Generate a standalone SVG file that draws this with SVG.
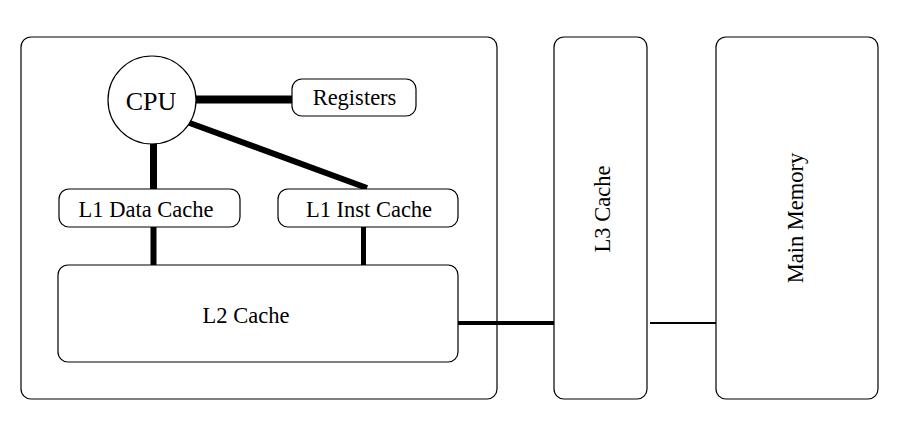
<svg xmlns="http://www.w3.org/2000/svg" width="902" height="422" viewBox="0 0 902 422">
<style>
.box{fill:#fff;stroke:#000;stroke-width:1.2}
.lbl{font-family:"Liberation Serif","Times New Roman",serif;font-size:22.5px;fill:#000;text-anchor:middle}
.cpu{font-size:26px}
.conn line{stroke:#000;stroke-linecap:butt}
</style>
<rect width="902" height="422" fill="#fff"/>
<g id="chip"><rect class="box" x="21" y="37" width="476" height="362" rx="10"/></g>
<g class="conn" id="connectors">
<line x1="196" y1="99.5" x2="293" y2="99.5" stroke-width="8"/>
<line x1="153.5" y1="143" x2="153.5" y2="189" stroke-width="7"/>
<line x1="187" y1="122" x2="367" y2="188" stroke-width="6"/>
<line x1="153.5" y1="227" x2="153.5" y2="265" stroke-width="6"/>
<line x1="363.5" y1="227" x2="363.5" y2="265" stroke-width="5"/>
<line x1="458" y1="323" x2="554" y2="323" stroke-width="4"/>
<line x1="650" y1="323" x2="716" y2="323" stroke-width="2"/>
</g>
<g id="cpu"><circle class="box" cx="152" cy="100" r="44"/><text class="lbl cpu" x="151" y="110">CPU</text></g>
<g id="registers"><rect class="box" x="292" y="79" width="124" height="37" rx="10"/><text class="lbl" x="354.5" y="105">Registers</text></g>
<g id="l1data"><rect class="box" x="59" y="189" width="181" height="38" rx="10"/><text class="lbl" x="146" y="217">L1 Data Cache</text></g>
<g id="l1inst"><rect class="box" x="278" y="189" width="180" height="38" rx="10"/><text class="lbl" x="369" y="217">L1 Inst Cache</text></g>
<g id="l2"><rect class="box" x="58" y="265" width="400" height="97" rx="10"/><text class="lbl" x="246" y="323">L2 Cache</text></g>
<g id="l3"><rect class="box" x="554" y="37" width="93" height="362" rx="10"/><text class="lbl" transform="translate(610 209) rotate(-90)">L3 Cache</text></g>
<g id="mainmem"><rect class="box" x="716" y="37" width="162" height="362" rx="10"/><text class="lbl" transform="translate(803 218) rotate(-90)">Main Memory</text></g>
</svg>
